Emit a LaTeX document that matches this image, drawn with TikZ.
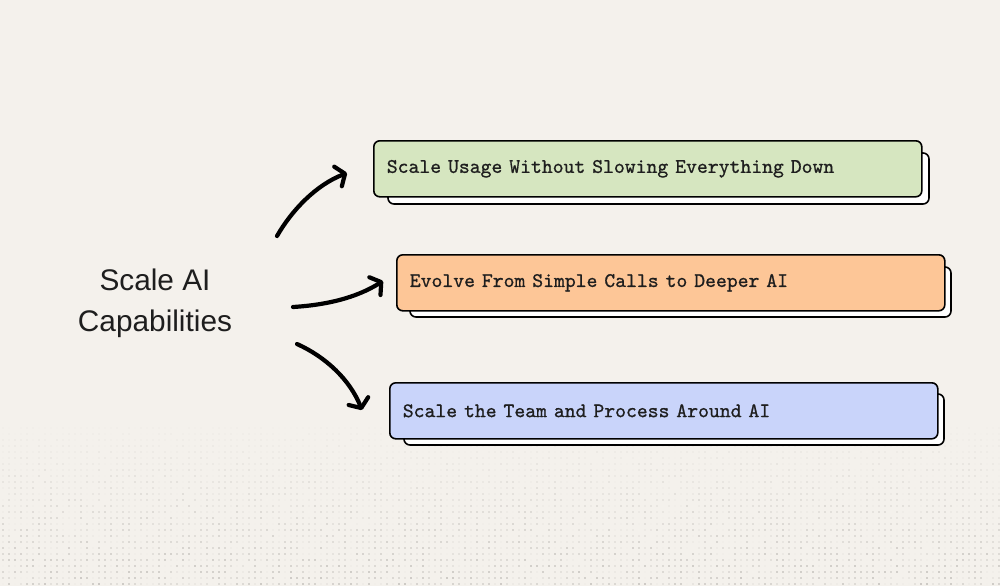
\documentclass[tikz,border=0pt]{standalone}
\usepackage{fontspec}
\setmainfont{Liberation Sans}
\newfontfamily\cardfont{lmmono10-regular}[Extension=.otf, FakeBold=0.8]
\usetikzlibrary{%
	arrows.meta,%
	calc%
}
\definecolor{paper}{HTML}{F4F1EC}
\definecolor{ink}{HTML}{1E1E1E}
\definecolor{dotgray}{HTML}{6E6A66}
\definecolor{usagegreen}{HTML}{D6E6C0}
\definecolor{evolveorange}{HTML}{FDC697}
\definecolor{teamblue}{HTML}{C9D4FA}
\tikzset{
	stepcard/.style={draw=black, line width=1.6pt, rounded corners=6pt, anchor=north west, minimum height=56pt, text width=522pt, inner xsep=13pt, align=left, text=ink, font=\cardfont\fontsize{20.7}{22}\selectfont},
	backcard/.style={draw=black, fill=white, line width=1.6pt, rounded corners=6pt},
	flowarrow/.style={line width=4.2pt, line cap=round, -{Straight Barb[length=7.5pt,width=21pt,line cap=round,line join=round]}}
}

\begin{document}
\begin{tikzpicture}[x=1pt, y=-1pt]
	% Background
	\fill[paper] (0,0) rectangle (1000,586);
	\useasboundingbox (0,0) rectangle (1000,586);
	\foreach \r in {0,...,26}{
		\foreach \c in {0,...,166}{
			\pgfmathsetmacro\op{(0.04+0.55*\r/26)*rnd}
			\fill[dotgray, opacity=\op] (3+6*\c, 428+6*\r) circle (0.9);
		}
	}
	% Title
	\node[align=center, text=ink, font=\fontsize{29.8}{41}\selectfont] (title) at (155,303) {Scale AI\\Capabilities};
	% Shadows
	\draw[backcard] (388,153) rectangle (929,204);
	\draw[backcard] (410,267) rectangle (951,317);
	\draw[backcard] (404,394) rectangle (944,445);
	% Cards
	\node[stepcard, fill=usagegreen] (usage) at (373,140) {Scale Usage Without Slowing Everything Down};
	\node[stepcard, fill=evolveorange] (evolve) at (396,254) {Evolve From Simple Calls to Deeper AI};
	\node[stepcard, fill=teamblue] (team) at (389,382) {Scale the Team and Process Around AI};
	% Arrows
	\coordinate (usage-from) at (277,236);
	\coordinate (usage-to) at (347,173);
	\coordinate (evolve-from) at (293,307);
	\coordinate (evolve-to) at (383,281);
	\coordinate (team-from) at (297,344);
	\coordinate (team-to) at (362,410);
	\draw[flowarrow] (usage-from) .. controls (292,210) and (316,185) .. (usage-to);
	\draw[flowarrow] (evolve-from) .. controls (326,305) and (356,298) .. (evolve-to);
	\draw[flowarrow] (team-from) .. controls (326,357) and (350,380) .. (team-to);
\end{tikzpicture}
\end{document}
